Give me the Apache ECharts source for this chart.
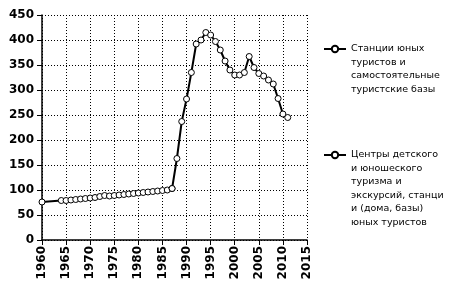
<!DOCTYPE html>
<html><head><meta charset="utf-8">
<script src="https://cdn.jsdelivr.net/npm/echarts@6/dist/echarts.min.js"></script>
<style>html,body{margin:0;padding:0;background:#fff}#c{width:453px;height:289px}</style>
</head><body><div id="c"></div>
<script>
const seriesNames = [
  'Станции юных\nтуристов и\nсамостоятельные\nтуристские базы',
  'Центры детского\nи юношеского\nтуризма и\nэкскурсий, станци\nи (дома, базы)\nюных туристов'
];
const years1 = [1960,1964,1965,1966,1967,1968,1969,1970,1971,1972,1973,1974,1975,1976,1977,1978,1979,1980,1981,1982,1983,1984,1985,1986,1987];
const values1 = [76,79,79,80,81,82,83,84,85,87,89,88,89,90,91,92,93,94,95,96,97,98,99,100,103];
const years2 = [1987,1988,1989,1990,1991,1992,1993,1994,1995,1996,1997,1998,1999,2000,2001,2002,2003,2004,2005,2006,2007,2008,2009,2010,2011];
const values2 = [103,163,237,282,335,392,400,415,410,397,380,358,340,330,330,335,367,345,333,328,320,312,283,252,245];
const xTicks = [1960,2015,5];
const yTicks = [0,450,50];

const chart = echarts.init(document.getElementById('c'), null, {renderer:'canvas'});
const axisFont = 'DejaVu Sans';
const legFont = 'DejaVu Sans';
const LH = 13.5;
function mk(name, xs, ys){
  return {
    name, type:'line', data: xs.map((x,i)=>[x, ys[i]]),
    symbol:'circle', symbolSize:6, showSymbol:true,
    lineStyle:{color:'#000', width:2},
    itemStyle:{color:'#fff', borderColor:'#000', borderWidth:1},
    emphasis:{disabled:true}, animation:false
  };
}
// icon sits on the first text line: pad the text block with empty lines above
function legendFor(i, firstLineY){
  const n = seriesNames[i].split('\n').length;
  return {data:[seriesNames[i]], left:318, top: firstLineY - LH/2 - (n-1)*LH,
    orient:'vertical', itemWidth:22, itemHeight:8, itemGap:4,
    formatter: name => '\n'.repeat(n-1) + name,
    textStyle:{fontFamily:legFont, fontSize:9.5, color:'#000', lineHeight:LH}};
}
chart.setOption({
  animation:false,
  grid:{left:42, right:146, top:15, bottom:49, containLabel:false},
  xAxis:{type:'value', min:xTicks[0], max:xTicks[1], interval:xTicks[2],
    axisLine:{lineStyle:{color:'#000', width:1.5}},
    axisTick:{show:true, length:5, lineStyle:{color:'#000'}},
    axisLabel:{rotate:90, color:'#000', fontFamily:axisFont, fontSize:12, fontWeight:'bold', margin:6,
      formatter:v=>String(v)},
    splitLine:{show:true, lineStyle:{color:'#000', type:[1,2], width:1}}},
  yAxis:{type:'value', min:yTicks[0], max:yTicks[1], interval:yTicks[2],
    axisLine:{show:true, lineStyle:{color:'#000', width:1.5}},
    axisTick:{show:true, length:5, lineStyle:{color:'#000'}},
    axisLabel:{color:'#000', fontFamily:axisFont, fontSize:12, fontWeight:'bold', margin:8,
      formatter:v=>String(v)},
    splitLine:{show:true, lineStyle:{color:'#000', type:[1,2], width:1}}},
  legend:[legendFor(0, 44), legendFor(1, 150)],
  series:[mk(seriesNames[0], years1, values1), mk(seriesNames[1], years2, values2)]
});
</script></body></html>
